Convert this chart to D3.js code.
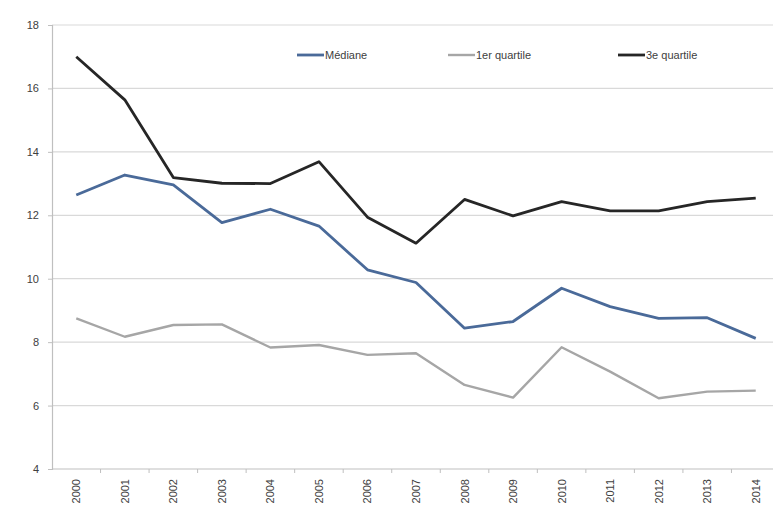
<!DOCTYPE html>
<html><head><meta charset="utf-8">
<script src="https://cdn.jsdelivr.net/npm/d3@7"></script>
<style>
html,body{margin:0;padding:0;background:#fff;}
svg{display:block;}
text{font-family:"Liberation Sans",Arial,sans-serif;}
</style></head>
<body>
<svg id="chart" width="773" height="511"></svg>
<script>
const years = ["2000","2001","2002","2003","2004","2005","2006","2007","2008","2009","2010","2011","2012","2013","2014"];
const mediane   = [12.64,13.27,12.96,11.77,12.19,11.66,10.28,9.88,8.44,8.65,9.70,9.12,8.75,8.77,8.12];
const quartile1 = [8.75,8.17,8.54,8.56,7.83,7.91,7.60,7.65,6.65,6.25,7.84,7.07,6.23,6.44,6.47];
const quartile3 = [17.0,15.64,13.19,13.01,13.0,13.69,11.94,11.12,12.5,11.98,12.43,12.14,12.14,12.43,12.54];
const yTicks = [4,6,8,10,12,14,16,18];
const seriesNames = ["Médiane","1er quartile","3e quartile"];
const seriesColors = ["#4a6a99","#a6a6a6","#262626"];

const series = [mediane, quartile1, quartile3];
const svg = d3.select("#chart");
const mLeft = 52, mRight = 780, mTop = 25, mBottom = 469;

const x = d3.scaleBand().domain(years).range([mLeft, mRight]).padding(0);
const y = d3.scaleLinear().domain([4, 18]).range([mBottom, mTop]);

// gridlines
svg.append("g").selectAll("line").data(yTicks.filter(d => d > 4)).join("line")
  .attr("x1", mLeft).attr("x2", mRight)
  .attr("y1", d => y(d)).attr("y2", d => y(d))
  .attr("stroke", "#d9d9d9").attr("stroke-width", 1.2);

// y axis
const yAxis = d3.axisLeft(y).tickValues(yTicks).tickSize(4).tickPadding(9).tickFormat(d3.format("d"));
const yg = svg.append("g").attr("transform", `translate(${mLeft},0)`).call(yAxis);
yg.select(".domain").attr("stroke", "#bfbfbf").attr("stroke-width", 1.2);
yg.selectAll(".tick line").attr("stroke", "#bfbfbf");
yg.selectAll(".tick text").attr("fill", "#404040").style("font-size", "11px");

// x axis
const xg = svg.append("g").attr("transform", `translate(0,${mBottom})`);
xg.append("line").attr("x1", mLeft).attr("x2", mRight).attr("y1", 0).attr("y2", 0)
  .attr("stroke", "#bfbfbf").attr("stroke-width", 1.2);
xg.selectAll("line.tk").data(years).join("line").attr("class", "tk")
  .attr("x1", d => x(d) + x.bandwidth()).attr("x2", d => x(d) + x.bandwidth())
  .attr("y1", 0).attr("y2", 4).attr("stroke", "#bfbfbf");
xg.selectAll("text").data(years).join("text")
  .attr("transform", d => `translate(${x(d) + x.bandwidth() / 2 + 4},10) rotate(-90)`)
  .attr("text-anchor", "end")
  .attr("fill", "#404040").style("font-size", "11px")
  .text(d => d);

// lines
const line = d3.line().x((d, i) => x(years[i]) + x.bandwidth() / 2).y(d => y(d));
series.forEach((s, k) => {
  svg.append("path").datum(s)
    .attr("fill", "none").attr("stroke", seriesColors[k])
    .attr("stroke-width", k === 1 ? 2.4 : 2.8)
    .attr("stroke-linejoin", "round")
    .attr("d", line);
});

// legend
const legendX = [297, 448, 618];
const lg = svg.append("g");
seriesNames.forEach((n, k) => {
  lg.append("line").attr("x1", legendX[k]).attr("x2", legendX[k] + 27)
    .attr("y1", 55).attr("y2", 55)
    .attr("stroke", seriesColors[k]).attr("stroke-width", k === 1 ? 2.4 : 2.8);
  lg.append("text").attr("x", legendX[k] + 28).attr("y", 59)
    .attr("fill", "#404040").style("font-size", "11px").text(n);
});
</script>
</body></html>
